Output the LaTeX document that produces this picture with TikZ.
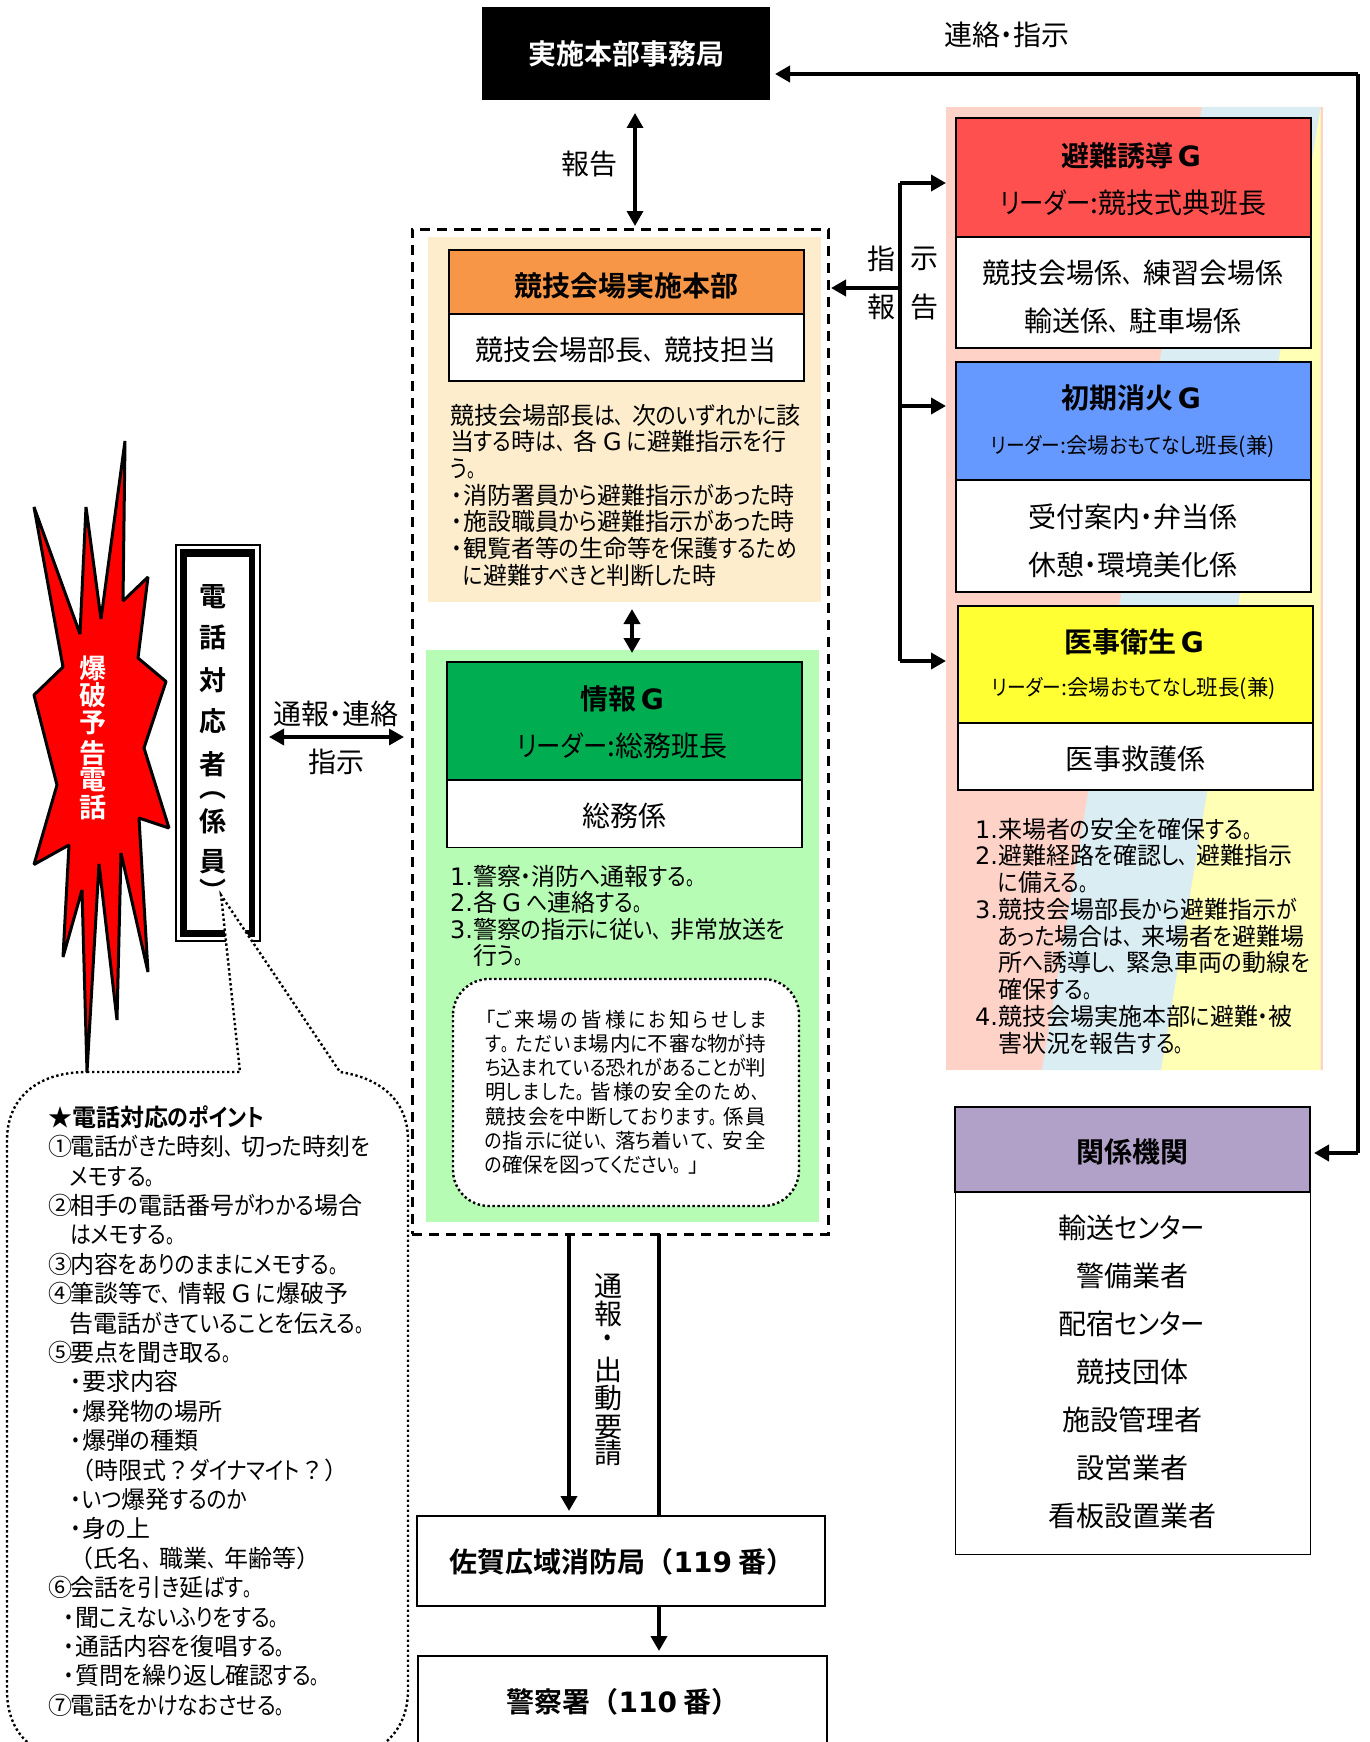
\documentclass[tikz,border=0pt]{standalone}
\usepackage{fontspec}
\usetikzlibrary{arrows.meta}
\setmainfont[RawFeature={+palt},BoldFont={Noto Sans CJK JP Bold}]{Noto Sans CJK JP}
\newfontfamily\vdf{DejaVu Sans}
\newfontfamily\basef[RawFeature={+palt},BoldFont={Noto Sans CJK JP Bold}]{Noto Sans CJK JP}
\newfontfamily\kanaf[RawFeature={+palt},FakeStretch=0.87,BoldFont={Noto Sans CJK JP Bold}]{Noto Sans CJK JP}
\newfontfamily\punctf[FakeStretch=0.72,BoldFont={Noto Sans CJK JP Bold}]{Noto Sans CJK JP}
\newfontfamily\fullf[BoldFont={Noto Sans CJK JP Bold}]{Noto Sans CJK JP}
% kana narrow, punctuation and full-width brackets on their own fonts
\chardef\clkana=10
\chardef\clpunct=11
\chardef\clfull=12
\newcount\cnt
\cnt="3041
\loop\ifnum\cnt<"3100 \XeTeXcharclass\cnt=\clkana \advance\cnt by 1 \repeat
\XeTeXcharclass"3001=\clpunct
\XeTeXcharclass"3002=\clpunct
\XeTeXcharclass"FF08=\clfull
\XeTeXcharclass"FF09=\clfull
\XeTeXcharclass"FF1F=\clfull
\def\setcls#1{%
  \XeTeXinterchartoks #1 \clkana={\kanaf}%
  \XeTeXinterchartoks \clkana #1={\basef}%
  \XeTeXinterchartoks #1 \clpunct={\punctf}%
  \XeTeXinterchartoks \clpunct #1={\basef}%
  \XeTeXinterchartoks #1 \clfull={\fullf}%
  \XeTeXinterchartoks \clfull #1={\basef}}
\setcls{0}\setcls{1}\setcls{2}\setcls{3}\setcls{4095}
\XeTeXinterchartoks \clkana \clpunct={\punctf}
\XeTeXinterchartoks \clpunct \clkana={\kanaf}
\XeTeXinterchartoks \clkana \clfull={\fullf}
\XeTeXinterchartoks \clfull \clkana={\kanaf}
\XeTeXinterchartoks \clpunct \clfull={\fullf}
\XeTeXinterchartoks \clfull \clpunct={\punctf}
\XeTeXinterchartokenstate=1
\XeTeXlinebreaklocale "ja"
\XeTeXlinebreakskip=0pt plus 6pt minus 1pt
\newcommand{\fsz}[2]{\fontsize{#1pt}{#2pt}\selectfont}
\newcommand{\G}{{\vdf G}}
\newcommand{\numl}[1]{\makebox[23pt][l]{\vdf #1}}
\newcommand{\dotl}{\makebox[13pt][c]{・}}
\newcommand{\cirl}[1]{\makebox[22pt][l]{#1}}
\newcommand{\firstl}{\rule{0pt}{20pt}}
\definecolor{ppink}{HTML}{FFD2C8}
\definecolor{pblue}{HTML}{DAEDF3}
\definecolor{pyell}{HTML}{FFFFB5}
\definecolor{oback}{HTML}{FDEDCC}
\definecolor{ohead}{HTML}{F79646}
\definecolor{gback}{HTML}{B6FCB4}
\definecolor{ghead}{HTML}{00AD50}
\definecolor{rhead}{HTML}{FF5050}
\definecolor{bhead}{HTML}{6699FF}
\definecolor{yhead}{HTML}{FFFF33}
\definecolor{phead}{HTML}{B1A0C7}
\tikzset{
  tx/.style={inner sep=0pt,outer sep=0pt},
  bx/.style={draw=black,line width=1.4pt,inner sep=0pt,outer sep=0pt},
  pnl/.style={inner sep=0pt,outer sep=0pt},
  ttl/.style={tx,font=\fsz{28}{30}\bfseries},
  sub/.style={tx,font=\fsz{28}{30}},
  subs/.style={tx,font=\fsz{21.5}{24}},
  blk/.style={tx,anchor=north west,align=left},
  dotline/.style={line width=2.4pt,dash pattern=on 2.4pt off 2.6pt},
  conn/.style={line width=4pt,-{Triangle[length=15pt,width=16pt]}},
  bicon/.style={line width=3.4pt,{Triangle[length=15pt,width=16pt]}-{Triangle[length=15pt,width=16pt]}},
  plain/.style={line width=4pt},
}
\begin{document}
\begin{tikzpicture}[x=1pt,y=-1pt]
\clip (0,0) rectangle (1369,1742);
\fill[white] (0,0) rectangle (1369,1742);

% right rainbow panel
\fill[ppink] (946,107) rectangle (1322.7,1070);
\fill[pblue] (1202,107) -- (1320.7,107) -- (1161,1070) -- (1042,1070) -- cycle;
\fill[pyell] (1320.7,107) -- (1320.7,1070) -- (1161,1070) -- cycle;

% dashed HQ frame and panels
\node[draw=black,line width=3pt,dash pattern=on 10pt off 7pt,minimum width=416pt,minimum height=1005pt,inner sep=0pt,outer sep=0pt] (frame) at (620,731.5) {};
\node[pnl,fill=oback,minimum width=393pt,minimum height=365pt] (opanel) at (624.5,419.5) {};
\node[pnl,fill=gback,minimum width=393pt,minimum height=572pt] (gpanel) at (622.5,936) {};

% black box
\node[pnl,fill=black,minimum width=288pt,minimum height=93pt,text=white,font=\fsz{28}{30}\bfseries] (hq) at (626,53.5) {\raisebox{-4pt}{実施本部事務局}};

% orange group
\node[bx,fill=white,minimum width=355pt,minimum height=67pt] (oW) at (626.5,347.5) {};
\node[bx,fill=ohead,minimum width=355pt,minimum height=64pt] (oH) at (626.5,282) {};
\node[ttl] (oHt) at (626,286) {競技会場実施本部};
\node[sub] (oWt) at (626,350) {競技会場部長、競技担当};
\node[blk,font=\fsz{24}{26.7}] (oBody) at (450,404) {\firstl 競技会場部長は、次のいずれかに該\\
当する時は、各 \G{} に避難指示を行\\
う。\\
\dotl 消防署員から避難指示があった時\\
\dotl 施設職員から避難指示があった時\\
\dotl 観覧者等の生命等を保護するため\\
\hspace*{13pt}に避難すべきと判断した時};

% green group
\node[bx,fill=white,minimum width=355pt,minimum height=67.5pt] (gW) at (624.5,813.75) {};
\node[bx,fill=ghead,minimum width=355pt,minimum height=118pt] (gH) at (624.5,721) {};
\node[ttl] (gT1) at (622,698.5) {情報\,\G};
\node[sub] (gT2) at (622,746) {リーダー:総務班長};
\node[sub] (gWt) at (624,816) {総務係};
\node[blk,font=\fsz{24}{26.5}] (gBody) at (450,865) {\firstl\numl{1.}警察・消防へ通報する。\\
\numl{2.}各 \G{} へ連絡する。\\
\numl{3.}警察の指示に従い、非常放送を\\
\hspace*{23pt}行う。};
\node[bx,draw=none,fill=white,minimum width=346pt,minimum height=227pt,rounded corners=36pt] (ann) at (626,1092.5) {};
\draw[dotline,rounded corners=36pt] (453,979) rectangle (799,1206);
\node[blk,text width=281pt,align=justify,font=\fsz{20.5}{24.3}] (annT) at (485,1007) {\firstl 「ご\hfill 来\hfill 場\hfill の\hfill 皆\hfill 様\hfill に\hfill お\hfill 知\hfill ら\hfill せ\hfill し\hfill ま\linebreak
す。ただいま場内に不審な物が持\linebreak
ち込まれている恐れがあることが判\linebreak
明しました。皆様の安全のため、\linebreak
競技会を中断しております。係員\linebreak
の指示に従い、落ち着いて、安全\linebreak
の確保を図ってください。」};

% red group
\node[bx,fill=white,minimum width=355pt,minimum height=111pt] (rW) at (1133.5,292.5) {};
\node[bx,fill=rhead,minimum width=355pt,minimum height=119pt] (rH) at (1133.5,177.5) {};
\node[ttl] (rT1) at (1131,156) {避難誘導\,\G};
\node[sub] (rT2) at (1133,203) {リーダー:競技式典班長};
\node[sub] (rW1) at (1133,273) {競技会場係、練習会場係};
\node[sub] (rW2) at (1133,321) {輸送係、駐車場係};

% blue group
\node[bx,fill=white,minimum width=355pt,minimum height=112pt] (bW) at (1133.5,536) {};
\node[bx,fill=bhead,minimum width=355pt,minimum height=118pt] (bH) at (1133.5,421) {};
\node[ttl] (bT1) at (1131,398) {初期消火\,\G};
\node[subs] (bT2) at (1133,447) {リーダー:会場おもてなし班長(兼)};
\node[sub] (bW1) at (1133,517) {受付案内・弁当係};
\node[sub] (bW2) at (1133,565) {休憩・環境美化係};

% yellow group
\node[bx,fill=white,minimum width=355pt,minimum height=67pt] (yW) at (1135.5,756.5) {};
\node[bx,fill=yhead,minimum width=355pt,minimum height=117pt] (yH) at (1135.5,664.5) {};
\node[ttl] (yT1) at (1134,642) {医事衛生\,\G};
\node[subs] (yT2) at (1134,689) {リーダー:会場おもてなし班長(兼)};
\node[sub] (yWt) at (1135,759) {医事救護係};
\node[blk,font=\fsz{24}{26.75}] (yBody) at (975,818) {\firstl\numl{1.}来場者の安全を確保する。\\
\numl{2.}避難経路を確認し、避難指示\\
\hspace*{23pt}に備える。\\
\numl{3.}競技会場部長から避難指示が\\
\hspace*{23pt}あった場合は、来場者を避難場\\
\hspace*{23pt}所へ誘導し、緊急車両の動線を\\
\hspace*{23pt}確保する。\\
\numl{4.}競技会場実施本部に避難・被\\
\hspace*{23pt}害状況を報告する。};

% purple group
\node[bx,fill=white,line width=1pt,minimum width=355pt,minimum height=362pt] (pW) at (1132.5,1373) {};
\node[bx,fill=phead,minimum width=355pt,minimum height=85pt] (pH) at (1132.5,1149.5) {};
\node[ttl] (pT) at (1132,1152) {関係機関};
\foreach \nm/\yy/\tt in {p1/1228/輸送センター,p2/1276/警備業者,p3/1324/配宿センター,p4/1372/競技団体,p5/1420/施設管理者,p6/1468/設営業者,p7/1516/看板設置業者}
  \node[sub] (\nm) at (1132,\yy) {\tt};

% fire and police boxes
\node[bx,line width=2pt,fill=white,minimum width=408pt,minimum height=90pt] (fire) at (621,1561) {};
\node[ttl] (fireT) at (622,1562) {佐賀広域消防局（{\vdf 119} 番）};
\node[bx,line width=2pt,fill=white,minimum width=409pt,minimum height=104pt] (police) at (622.5,1708) {};
\node[ttl] (policeT) at (623,1702) {警察署（{\vdf 110} 番）};

% starburst
\draw[fill=red,line width=3pt,line join=bevel] (125,441) -- (123,601) -- (148,577) -- (138,658) -- (166,681.5) -- (144,748) -- (169,828) -- (139,818) -- (148,972) -- (121,853) -- (117,1020) -- (99,864) -- (87,1072) -- (82,890) -- (63,957) -- (69,845) -- (34,864.5) -- (57,785) -- (34,695) -- (63,667) -- (34,507) -- (80,634) -- (86,507) -- (101,619) -- cycle;
\foreach \i/\yy/\ch in {1/668.5/爆,2/695/破,3/723/予,4/753/告,5/780/電,6/807/話}
  \node[tx,text=white,font=\fsz{27}{30}\bfseries] (ba\i) at (93,\yy) {\ch};

% telephone box
\node[draw=black,line width=1.5pt,fill=white,minimum width=84pt,minimum height=396pt,inner sep=0pt] (telO) at (218,743) {};
\node[fill=black,minimum width=75pt,minimum height=388pt,inner sep=0pt] (telM) at (217.5,743) {};
\node[fill=white,minimum width=62pt,minimum height=373pt,inner sep=0pt] (telI) at (218,743.5) {};
\foreach \i/\yy/\ch in {1/597/電,2/637/話,3/680/対,4/721/応,5/764/者,6/796/︵,8/862/員,7/821/係,9/890/︶}
  \node[tx,font=\fsz{27}{30}\bfseries] (tel\i) at (213,\yy) {\ch};

% callout
\draw[dotline,fill=white] (87,1072) -- (240,1072) -- (221,895) -- (340,1072) .. controls (380,1078) and (408,1100) .. (408,1140) -- (408,1690) .. controls (408,1735) and (375,1758) .. (340,1758) -- (75,1758) .. controls (35,1758) and (7,1735) .. (7,1690) -- (7,1140) .. controls (7,1100) and (35,1072) .. (87,1072) -- cycle;
\node[blk,font=\fsz{24}{29.4}] (tips) at (48,1105.5) {\firstl\makebox[24pt][l]{\bfseries ★}{\bfseries 電話対応のポイント}\\
\cirl{①}電話がきた時刻、切った時刻を\\
\hspace*{22pt}メモする。\\
\cirl{②}相手の電話番号がわかる場合\\
\hspace*{22pt}はメモする。\\
\cirl{③}内容をありのままにメモする。\\
\cirl{④}筆談等で、情報 \G{} に爆破予\\
\hspace*{22pt}告電話がきていることを伝える。\\
\cirl{⑤}要点を聞き取る。\\
\hspace*{21pt}\dotl 要求内容\\
\hspace*{21pt}\dotl 爆発物の場所\\
\hspace*{21pt}\dotl 爆弾の種類\\
\hspace*{22pt}（時限式？ダイナマイト？）\\
\hspace*{21pt}\dotl いつ爆発するのか\\
\hspace*{21pt}\dotl 身の上\\
\hspace*{22pt}（氏名、職業、年齢等）\\
\cirl{⑥}会話を引き延ばす。\\
\hspace*{14pt}\dotl 聞こえないふりをする。\\
\hspace*{14pt}\dotl 通話内容を復唱する。\\
\hspace*{14pt}\dotl 質問を繰り返し確認する。\\
\cirl{⑦}電話をかけなおさせる。};

% labels
\node[sub] (lRenraku) at (1007,35) {連絡・指示};
\node[sub] (lHokoku) at (589,164) {報告};
\node[sub] (lShi1) at (881,259) {指};
\node[sub] (lShi2) at (924,259) {示};
\node[sub] (lHo1) at (881,307) {報};
\node[sub] (lHo2) at (924,307) {告};
\node[sub] (lTsuho) at (336,714) {通報・連絡};
\node[sub] (lShiji) at (336,762) {指示};
\foreach \i/\yy/\ch in {1/1286/通,2/1314/報,3/1342/・,4/1370/出,5/1398/動,6/1427/要,7/1453/請}
  \node[sub] (v\i) at (608,\yy) {\ch};

% connector end points
\coordinate (a1) at (775,74);
\coordinate (a2) at (1358,74);
\coordinate (a3) at (1358,1153);
\coordinate (a4) at (1314,1153);
\coordinate (b1) at (635,113);
\coordinate (b2) at (635,226);
\coordinate (c1) at (632,609);
\coordinate (c2) at (632,653);
\coordinate (d1) at (269,737);
\coordinate (d2) at (404,737);
\coordinate (e0) at (831,288);
\coordinate (e1) at (900,288);
\coordinate (e2) at (900,183);
\coordinate (e3) at (946,183);
\coordinate (e4) at (900,406);
\coordinate (e5) at (946,406);
\coordinate (e6) at (900,661);
\coordinate (e7) at (946,661);
\coordinate (f1) at (569,1234);
\coordinate (f2) at (569,1511);
\coordinate (g1) at (659,1234);
\coordinate (g2) at (659,1516);
\coordinate (g3) at (659,1606);
\coordinate (g4) at (659,1651);

% connectors
\draw[conn] (a3) -- (a4);
\draw[conn] (a2) -- (a1);
\draw[plain] (a2) -- (a3);
\draw[bicon] (b1) -- (b2);
\draw[bicon,line width=4pt] (c1) -- (c2);
\draw[bicon] (d1) -- (d2);
\draw[conn] (e1) -- (e0);
\draw[plain] (e2) -- (e6);
\draw[conn] (e2) -- (e3);
\draw[conn] (e4) -- (e5);
\draw[conn] (e6) -- (e7);
\draw[conn] (f1) -- (f2);
\draw[plain] (g1) -- (g2);
\draw[conn] (g3) -- (g4);
\end{tikzpicture}
\end{document}
